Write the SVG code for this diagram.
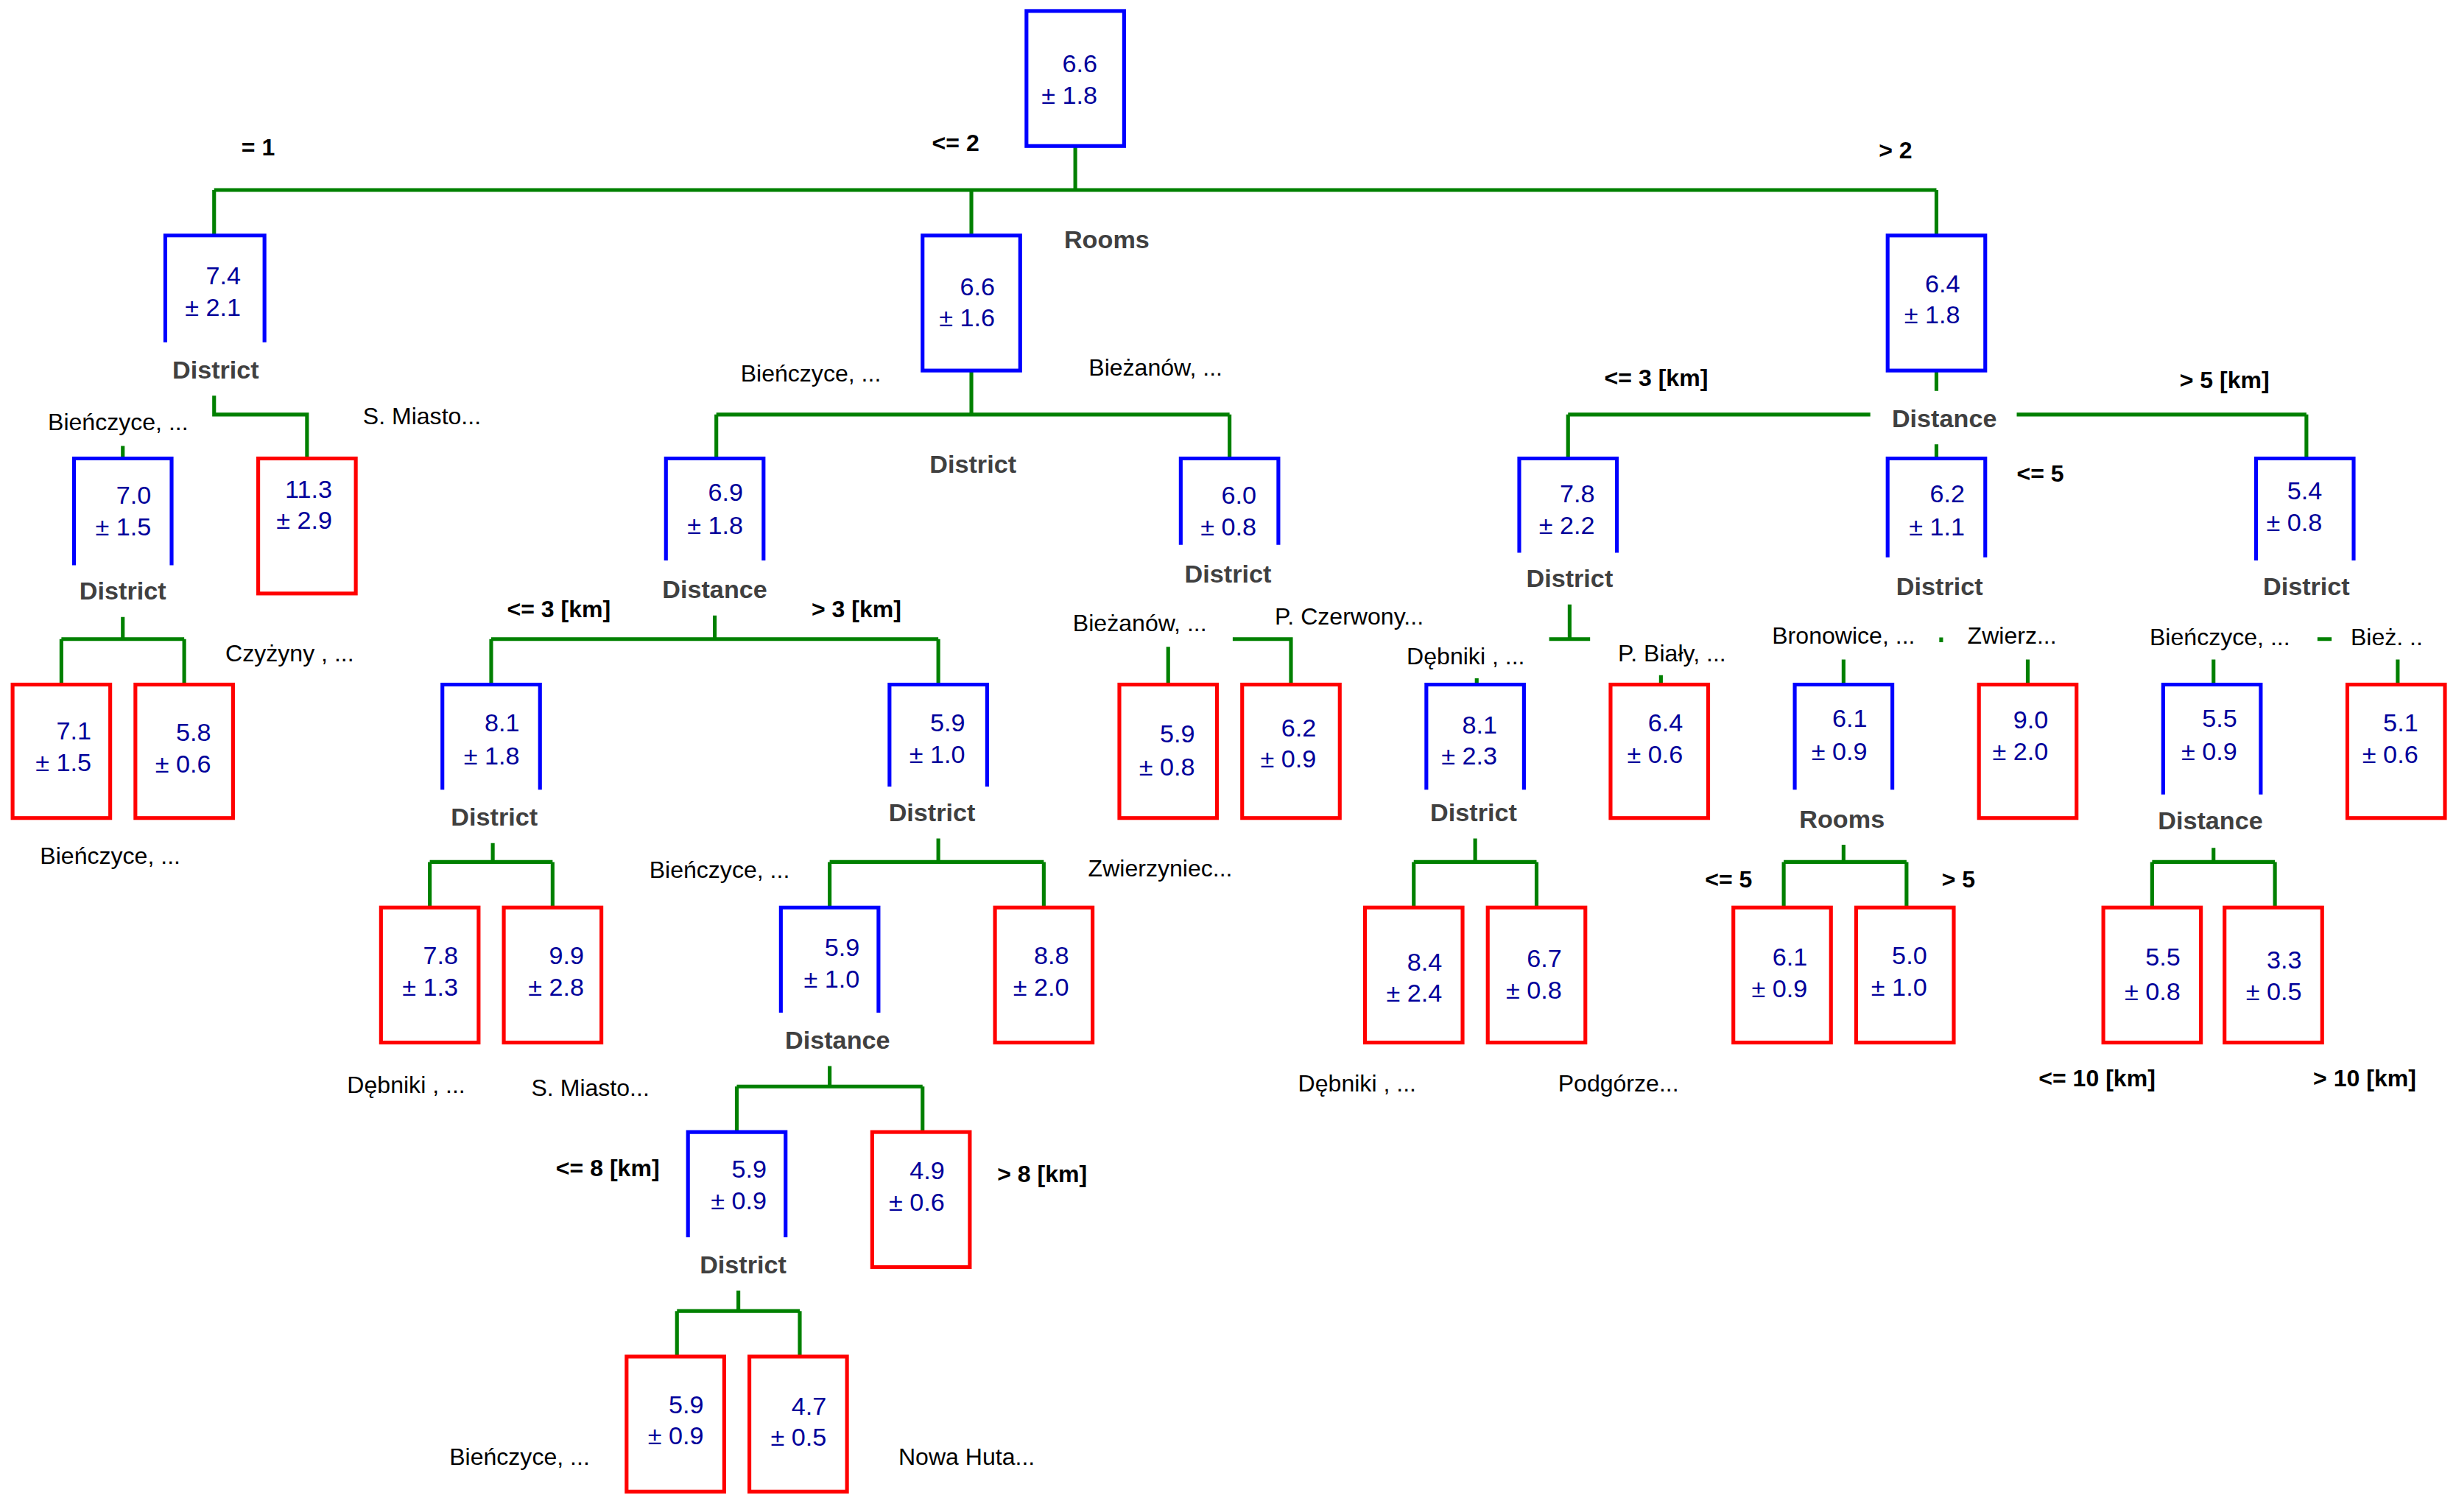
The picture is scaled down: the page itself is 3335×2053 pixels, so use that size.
<svg xmlns="http://www.w3.org/2000/svg" width="3335" height="2053" viewBox="0 0 3335 2053">
<style>
.bx{fill:none;stroke-width:2.4}
.b{stroke:#0000FF}
.r{stroke:#FF0000}
.c{fill:none;stroke:#008000;stroke-width:2.4}
.v{font-family:"Liberation Sans",Arial,sans-serif;font-size:16px;fill:#00009A;text-anchor:end}
.a{font-family:"Liberation Sans",Arial,sans-serif;font-size:16px;font-weight:bold;fill:#404040;text-anchor:middle}
.k{font-family:"Liberation Sans",Arial,sans-serif;font-size:15px;font-weight:bold;fill:#000;text-anchor:middle}
.l{font-family:"Liberation Sans",Arial,sans-serif;font-size:15px;fill:#000;text-anchor:middle}
</style>
<rect width="3335" height="2053" fill="#fff"/>
<g transform="scale(2.1378 2.1319)">
<g id="connectors">
<path class="c" d="M683,93V121M136,121H1230M136,121V150M617,121V150M1230,121V150"/>
<path class="c" d="M136,252V264H195V292M78,284V292"/>
<path class="c" d="M78,393V407M39,407H117M39,407V436M117,407V436"/>
<path class="c" d="M617,236V264M455,264H781M455,264V292M781,264V292"/>
<path class="c" d="M454,392V407M312,407H596M312,407V436M596,407V436"/>
<path class="c" d="M313,537V549M273,549H351M273,549V578M351,549V578"/>
<path class="c" d="M596,534V549M527,549H663M527,549V578M663,549V578"/>
<path class="c" d="M527,679V692M468,692H586M468,692V721M586,692V721"/>
<path class="c" d="M469,822V835M430,835H508M430,835V864M508,835V864"/>
<path class="c" d="M742,412V436M783,407H820V436"/>
<path class="c" d="M1230,236V249M996,264H1188M1281,264H1465M996,264V292M1465,264V292M1230,283V292"/>
<path class="c" d="M997,385V407M984,407H1010M938,432V436M1055,430V436"/>
<path class="c" d="M937,534V549M898,549H976M898,549V578M976,549V578"/>
<path class="c" d="M1233,406V409M1171,420V436M1288,420V436"/>
<path class="c" d="M1171,538V549M1133,549H1211M1133,549V578M1211,549V578"/>
<path class="c" d="M1472,407H1481M1406,420V436M1523,420V436"/>
<path class="c" d="M1406,540V549M1367,549H1445M1367,549V578M1445,549V578"/>
</g>
<g id="n_root"><rect class="bx b" x="652" y="7" width="62" height="86"/><text class="v" x="697" y="46">6.6</text><text class="v" x="697" y="66">± 1.8</text></g>
<g id="n_74"><path class="bx b" d="M105,218V150H168V218"/><text class="v" x="153" y="181">7.4</text><text class="v" x="153" y="201">± 2.1</text><text class="a" x="137" y="241">District</text></g>
<g id="n_66"><rect class="bx b" x="586" y="150" width="62" height="86"/><text class="v" x="632" y="188">6.6</text><text class="v" x="632" y="208">± 1.6</text></g>
<g id="n_64"><rect class="bx b" x="1199" y="150" width="62" height="86"/><text class="v" x="1245" y="186">6.4</text><text class="v" x="1245" y="206">± 1.8</text></g>
<g id="n_70"><path class="bx b" d="M47,360V292H109V360"/><text class="v" x="96" y="321">7.0</text><text class="v" x="96" y="341">± 1.5</text><text class="a" x="78" y="382">District</text></g>
<g id="n_113"><rect class="bx r" x="164" y="292" width="62" height="86"/><text class="v" x="211" y="317">11.3</text><text class="v" x="211" y="337">± 2.9</text></g>
<g id="n_71"><rect class="bx r" x="8" y="436" width="62" height="85"/><text class="v" x="58" y="471">7.1</text><text class="v" x="58" y="491">± 1.5</text></g>
<g id="n_58"><rect class="bx r" x="86" y="436" width="62" height="85"/><text class="v" x="134" y="472">5.8</text><text class="v" x="134" y="492">± 0.6</text></g>
<g id="n_69"><path class="bx b" d="M423,357V292H485V357"/><text class="v" x="472" y="319">6.9</text><text class="v" x="472" y="340">± 1.8</text><text class="a" x="454" y="381">Distance</text></g>
<g id="n_60"><path class="bx b" d="M750,347V292H812V347"/><text class="v" x="798" y="321">6.0</text><text class="v" x="798" y="341">± 0.8</text><text class="a" x="780" y="371">District</text></g>
<g id="n_81a"><path class="bx b" d="M281,503V436H343V503"/><text class="v" x="330" y="466">8.1</text><text class="v" x="330" y="487">± 1.8</text><text class="a" x="314" y="526">District</text></g>
<g id="n_59a"><path class="bx b" d="M565,501V436H627V501"/><text class="v" x="613" y="466">5.9</text><text class="v" x="613" y="486">± 1.0</text><text class="a" x="592" y="523">District</text></g>
<g id="n_78a"><rect class="bx r" x="242" y="578" width="62" height="86"/><text class="v" x="291" y="614">7.8</text><text class="v" x="291" y="634">± 1.3</text></g>
<g id="n_99"><rect class="bx r" x="320" y="578" width="62" height="86"/><text class="v" x="371" y="614">9.9</text><text class="v" x="371" y="634">± 2.8</text></g>
<g id="n_59b"><path class="bx b" d="M496,645V578H558V645"/><text class="v" x="546" y="609">5.9</text><text class="v" x="546" y="629">± 1.0</text><text class="a" x="532" y="668">Distance</text></g>
<g id="n_88"><rect class="bx r" x="632" y="578" width="62" height="86"/><text class="v" x="679" y="614">8.8</text><text class="v" x="679" y="634">± 2.0</text></g>
<g id="n_59c"><path class="bx b" d="M437,788V721H499V788"/><text class="v" x="487" y="750">5.9</text><text class="v" x="487" y="770">± 0.9</text><text class="a" x="472" y="811">District</text></g>
<g id="n_49"><rect class="bx r" x="554" y="721" width="62" height="86"/><text class="v" x="600" y="751">4.9</text><text class="v" x="600" y="771">± 0.6</text></g>
<g id="n_59d"><rect class="bx r" x="398" y="864" width="62" height="86"/><text class="v" x="447" y="900">5.9</text><text class="v" x="447" y="920">± 0.9</text></g>
<g id="n_47"><rect class="bx r" x="476" y="864" width="62" height="86"/><text class="v" x="525" y="901">4.7</text><text class="v" x="525" y="921">± 0.5</text></g>
<g id="n_59e"><rect class="bx r" x="711" y="436" width="62" height="85"/><text class="v" x="759" y="473">5.9</text><text class="v" x="759" y="494">± 0.8</text></g>
<g id="n_62a"><rect class="bx r" x="789" y="436" width="62" height="85"/><text class="v" x="836" y="469">6.2</text><text class="v" x="836" y="489">± 0.9</text></g>
<g id="n_78b"><path class="bx b" d="M965,352V292H1027V352"/><text class="v" x="1013" y="320">7.8</text><text class="v" x="1013" y="340">± 2.2</text><text class="a" x="997" y="374">District</text></g>
<g id="n_62b"><path class="bx b" d="M1199,355V292H1261V355"/><text class="v" x="1248" y="320">6.2</text><text class="v" x="1248" y="341">± 1.1</text><text class="a" x="1232" y="379">District</text></g>
<g id="n_54"><path class="bx b" d="M1433,357V292H1495V357"/><text class="v" x="1475" y="318">5.4</text><text class="v" x="1475" y="338">± 0.8</text><text class="a" x="1465" y="379">District</text></g>
<g id="n_81b"><path class="bx b" d="M906,503V436H968V503"/><text class="v" x="951" y="467">8.1</text><text class="v" x="951" y="487">± 2.3</text><text class="a" x="936" y="523">District</text></g>
<g id="n_64b"><rect class="bx r" x="1023" y="436" width="62" height="85"/><text class="v" x="1069" y="466">6.4</text><text class="v" x="1069" y="486">± 0.6</text></g>
<g id="n_84"><rect class="bx r" x="867" y="578" width="62" height="86"/><text class="v" x="916" y="618">8.4</text><text class="v" x="916" y="638">± 2.4</text></g>
<g id="n_67"><rect class="bx r" x="945" y="578" width="62" height="86"/><text class="v" x="992" y="616">6.7</text><text class="v" x="992" y="636">± 0.8</text></g>
<g id="n_61a"><path class="bx b" d="M1140,503V436H1202V503"/><text class="v" x="1186" y="463">6.1</text><text class="v" x="1186" y="484">± 0.9</text><text class="a" x="1170" y="527">Rooms</text></g>
<g id="n_90"><rect class="bx r" x="1257" y="436" width="62" height="85"/><text class="v" x="1301" y="464">9.0</text><text class="v" x="1301" y="484">± 2.0</text></g>
<g id="n_61b"><rect class="bx r" x="1101" y="578" width="62" height="86"/><text class="v" x="1148" y="615">6.1</text><text class="v" x="1148" y="635">± 0.9</text></g>
<g id="n_50"><rect class="bx r" x="1179" y="578" width="62" height="86"/><text class="v" x="1224" y="614">5.0</text><text class="v" x="1224" y="634">± 1.0</text></g>
<g id="n_55a"><path class="bx b" d="M1374,506V436H1436V506"/><text class="v" x="1421" y="463">5.5</text><text class="v" x="1421" y="484">± 0.9</text><text class="a" x="1404" y="528">Distance</text></g>
<g id="n_51"><rect class="bx r" x="1491" y="436" width="62" height="85"/><text class="v" x="1536" y="466">5.1</text><text class="v" x="1536" y="486">± 0.6</text></g>
<g id="n_55b"><rect class="bx r" x="1336" y="578" width="62" height="86"/><text class="v" x="1385" y="615">5.5</text><text class="v" x="1385" y="637">± 0.8</text></g>
<g id="n_33"><rect class="bx r" x="1413" y="578" width="62" height="86"/><text class="v" x="1462" y="617">3.3</text><text class="v" x="1462" y="637">± 0.5</text></g>
<g id="labels">
<text class="k" x="164" y="99">= 1</text><text class="k" x="607" y="96">&lt;= 2</text><text class="k" x="1204" y="101">&gt; 2</text>
<text class="a" x="703" y="158">Rooms</text>
<text class="l" x="75" y="274">Bieńczyce, ...</text><text class="l" x="268" y="270">S. Miasto...</text>
<text class="l" x="184" y="421">Czyżyny , ...</text><text class="l" x="70" y="550">Bieńczyce, ...</text>
<text class="l" x="515" y="243">Bieńczyce, ...</text><text class="l" x="734" y="239">Bieżanów, ...</text><text class="a" x="618" y="301">District</text>
<text class="k" x="355" y="393">&lt;= 3 [km]</text><text class="k" x="544" y="393">&gt; 3 [km]</text>
<text class="l" x="258" y="696">Dębniki , ...</text><text class="l" x="375" y="698">S. Miasto...</text>
<text class="l" x="457" y="559">Bieńczyce, ...</text><text class="l" x="737" y="558">Zwierzyniec...</text>
<text class="k" x="386" y="749">&lt;= 8 [km]</text><text class="k" x="662" y="753">&gt; 8 [km]</text>
<text class="l" x="330" y="933">Bieńczyce, ...</text><text class="l" x="614" y="933">Nowa Huta...</text>
<text class="l" x="724" y="402">Bieżanów, ...</text><text class="l" x="857" y="398">P. Czerwony...</text>
<text class="a" x="1235" y="272">Distance</text>
<text class="k" x="1052" y="246">&lt;= 3 [km]</text><text class="k" x="1413" y="247">&gt; 5 [km]</text><text class="k" x="1296" y="307">&lt;= 5</text>
<text class="l" x="931" y="423">Dębniki , ...</text><text class="l" x="1062" y="421">P. Biały, ...</text>
<text class="l" x="862" y="695">Dębniki , ...</text><text class="l" x="1028" y="695">Podgórze...</text>
<text class="l" x="1171" y="410">Bronowice, ...</text><text class="l" x="1278" y="410">Zwierz...</text>
<text class="k" x="1098" y="565">&lt;= 5</text><text class="k" x="1244" y="565">&gt; 5</text>
<text class="l" x="1410" y="411">Bieńczyce, ...</text><text class="l" x="1516" y="411">Bież. ..</text>
<text class="k" x="1332" y="692">&lt;= 10 [km]</text><text class="k" x="1502" y="692">&gt; 10 [km]</text>
</g>
</g>
</svg>
